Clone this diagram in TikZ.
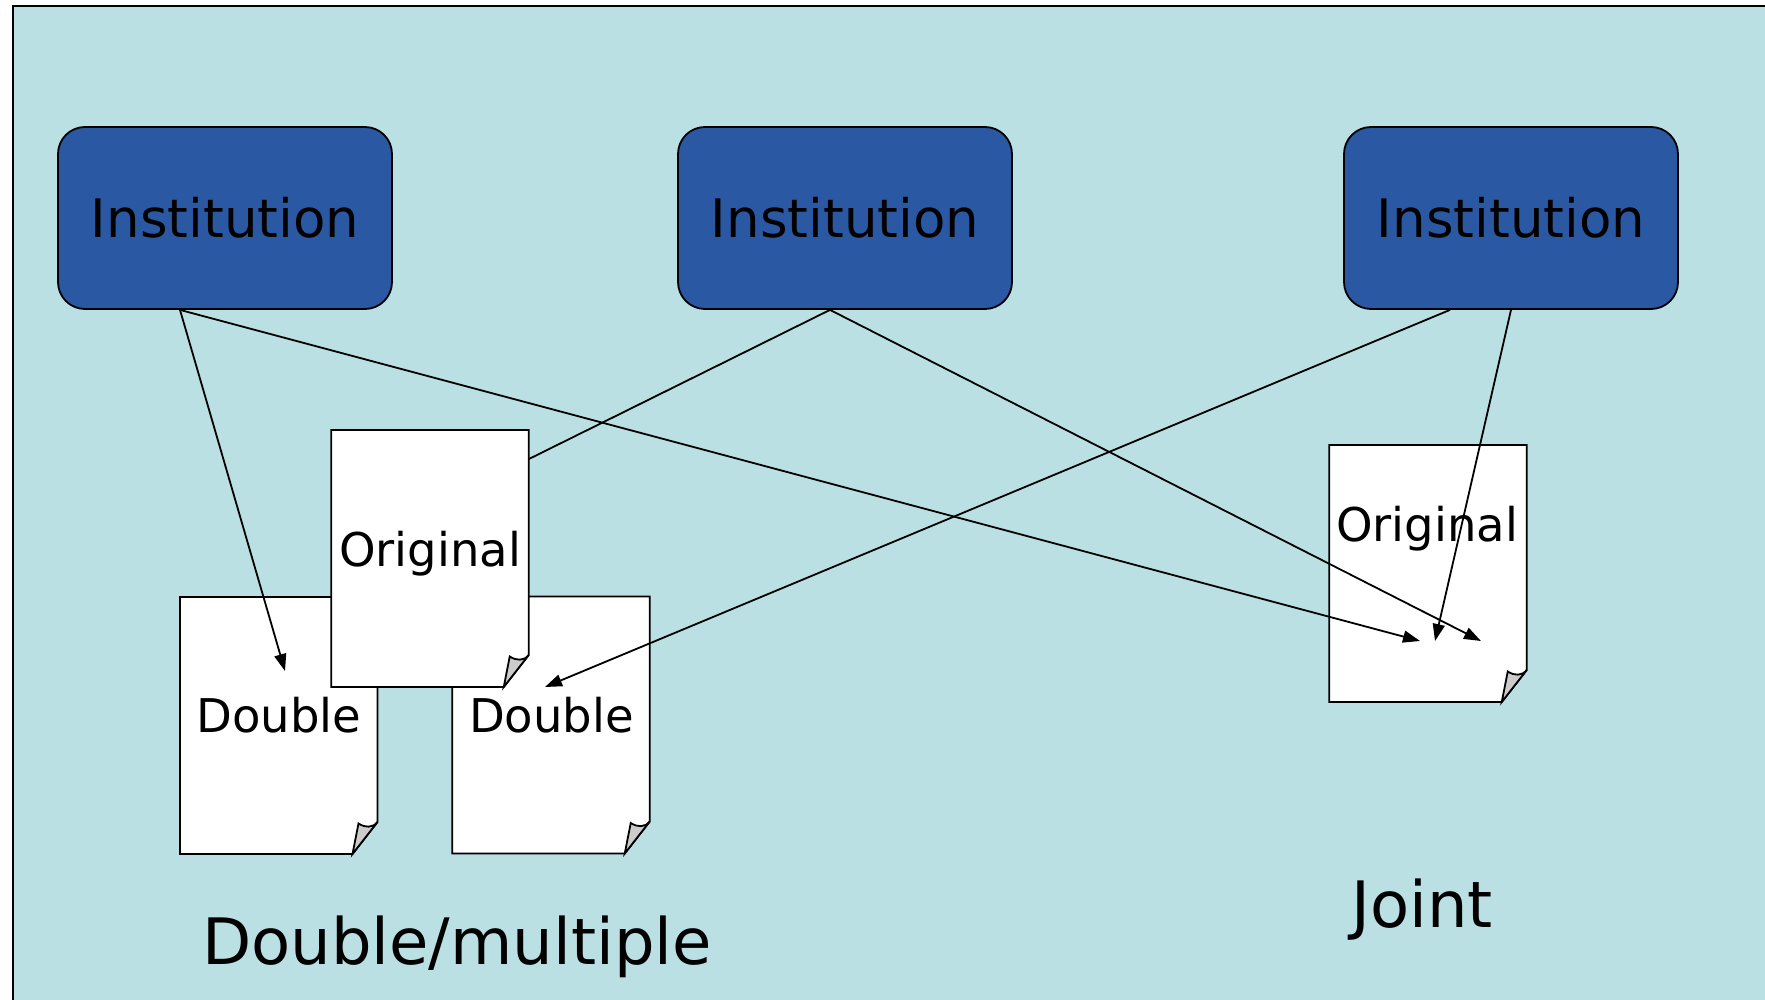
\documentclass[tikz,border=0pt]{standalone}
\usepackage{fontspec}
\setmainfont{DejaVu Sans}
\usetikzlibrary{arrows.meta,calc}
\definecolor{bgblue}{HTML}{BBE0E3}
\definecolor{instblue}{HTML}{2B58A3}
\definecolor{curlgray}{HTML}{CCCCCC}
\tikzset{
  pageline/.style={draw=black, line width=1.8pt, line join=miter},
  instbox/.style={draw=black, line width=1.8pt, fill=instblue, rounded corners=27pt,
    minimum width=334pt, minimum height=182pt, inner sep=0pt,
    font=\fontsize{53}{60}\selectfont, text=black},
  docnode/.style={minimum width=197.5pt, minimum height=257pt, inner sep=0pt},
  doctext/.style={font=\fontsize{46.5}{52}\selectfont, inner sep=0pt, anchor=base, text=black},
  captext/.style={font=\fontsize{64}{70}\selectfont, inner sep=0pt, anchor=base, text=black},
  conn/.style={draw=black, line width=1.8pt},
  arr/.style={conn, -{Triangle[length=17pt,width=12pt]}}
}
\newcommand\docpage[3]{%
  \draw[pageline, fill=white] ({#2-98.75},{#3-128.5}) -- ({#2+98.75},{#3-128.5})
    -- ({#2+98.75},{#3+96.5}) -- ({#2+73.75},{#3+128.5}) -- ({#2-98.75},{#3+128.5}) -- cycle;
  \draw[pageline, fill=curlgray] ({#2+73.75},{#3+128.5}) -- ({#2+79.75},{#3+98})
    .. controls ({#2+86.75},{#3+102.5}) and ({#2+93.75},{#3+102.5}) .. ({#2+98.75},{#3+96.5}) -- cycle;
  \node[docnode] (#1) at (#2,#3) {};
}
\begin{document}
\begin{tikzpicture}[x=1pt,y=-1pt]
\useasboundingbox (0,0) rectangle (1765,1000);
% background panel
\fill[bgblue] (13,6) rectangle (1775,1010);
\draw[line width=2pt] (1775,6) -- (13,6) -- (13,1010);
% institutions
\node[instbox] (b1) at (225,218) {Institution};
\node[instbox] (b2) at (845,218) {Institution};
\node[instbox] (b3) at (1511,218) {Institution};
% documents
\docpage{d1}{278.75}{725.5}
\docpage{d2}{551}{725}
\docpage{o1}{430}{558.5}
\docpage{o2}{1428}{573.5}
\node[doctext] (t1) at (279,732) {Double};
\node[doctext] (t2) at (551.5,732) {Double};
\node[doctext] (t3) at (430,566) {Original};
\node[doctext] (t4) at (1427,541.5) {Original};
% connectors
\draw[conn] ([xshift=-15pt]b2.south) -- ([yshift=99.5pt]o1.east);
\draw[arr] ([xshift=-45pt]b1.south) -- ([xshift=6.25pt,yshift=54.5pt]d1.center);
\draw[arr] ([xshift=-45pt]b1.south) -- ([xshift=-8pt,yshift=-67.5pt]o2.center);
\draw[arr] ([xshift=-15pt]b2.south) -- ([xshift=53pt,yshift=-67.5pt]o2.center);
\draw[arr] ([xshift=-61pt]b3.south) -- ([xshift=-6pt,yshift=38pt]d2.center);
\draw[arr] (b3.south) -- ([xshift=7pt,yshift=-67.5pt]o2.center);
% captions
\node[captext] (c1) at (457,964) {Double/multiple};
\node[captext] (c2) at (1422,927) {Joint};
\end{tikzpicture}
\end{document}
